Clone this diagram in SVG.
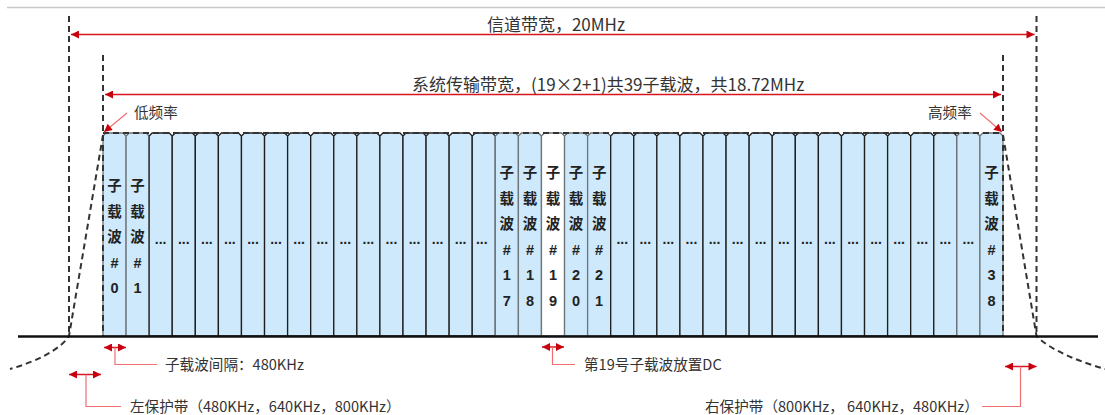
<svg xmlns="http://www.w3.org/2000/svg" xmlns:xlink="http://www.w3.org/1999/xlink" width="1105" height="415" viewBox="0 0 1105 415">
<style>
.lbl{font-family:"Noto Sans CJK SC","Noto Sans",sans-serif;fill:#333;}
.big{font-size:17px;}
.sm{font-size:14.6px;}
.ct{font-family:"Liberation Sans","Noto Sans CJK SC",sans-serif;font-size:14.5px;font-weight:bold;fill:#222;text-anchor:middle;}
.dots{font-family:"Liberation Sans",sans-serif;font-size:14px;font-weight:bold;fill:#222;text-anchor:middle;}
.colA{fill:#cde9fb;stroke:#6f7478;stroke-width:1.3;}
.colB{fill:#cde9fb;stroke:#1e1e1e;stroke-width:1.3;}
.colW{fill:#ffffff;stroke:#6f7478;stroke-width:1.3;}
.dash{fill:none;stroke:#333;stroke-width:2;stroke-dasharray:6 4;}
.red{fill:none;stroke:#d8141e;stroke-width:1.5;}
.lead{fill:none;stroke:#ef6f73;stroke-width:1.2;}
</style>
<defs>
<path id="col" d="M0,336 V136 L3,133 H20.08 L23.08,136 V336 Z"/>
<marker id="ah" viewBox="0 0 10 10" refX="10" refY="5" markerWidth="10" markerHeight="8" markerUnits="userSpaceOnUse" orient="auto-start-reverse">
<path d="M0,0 L10,5 L0,10 Z" fill="#c8000d"/>
</marker>
</defs>

<line x1="7" y1="7.5" x2="1105" y2="7.5" stroke="#c8c8c8" stroke-width="1.5"/>

<g id="subcarriers">
<use xlink:href="#col" x="103.00" class="colA"/>
<use xlink:href="#col" x="126.08" class="colA"/>
<use xlink:href="#col" x="149.15" class="colB"/>
<use xlink:href="#col" x="172.23" class="colB"/>
<use xlink:href="#col" x="195.31" class="colB"/>
<use xlink:href="#col" x="218.38" class="colB"/>
<use xlink:href="#col" x="241.46" class="colB"/>
<use xlink:href="#col" x="264.54" class="colB"/>
<use xlink:href="#col" x="287.62" class="colB"/>
<use xlink:href="#col" x="310.69" class="colB"/>
<use xlink:href="#col" x="333.77" class="colB"/>
<use xlink:href="#col" x="356.85" class="colB"/>
<use xlink:href="#col" x="379.92" class="colB"/>
<use xlink:href="#col" x="403.00" class="colB"/>
<use xlink:href="#col" x="426.08" class="colB"/>
<use xlink:href="#col" x="449.15" class="colB"/>
<use xlink:href="#col" x="472.23" class="colB"/>
<use xlink:href="#col" x="495.31" class="colA"/>
<use xlink:href="#col" x="518.38" class="colA"/>
<use xlink:href="#col" x="541.46" class="colW"/>
<use xlink:href="#col" x="564.54" class="colA"/>
<use xlink:href="#col" x="587.62" class="colA"/>
<use xlink:href="#col" x="610.69" class="colB"/>
<use xlink:href="#col" x="633.77" class="colB"/>
<use xlink:href="#col" x="656.85" class="colB"/>
<use xlink:href="#col" x="679.92" class="colB"/>
<use xlink:href="#col" x="703.00" class="colB"/>
<use xlink:href="#col" x="726.08" class="colB"/>
<use xlink:href="#col" x="749.15" class="colB"/>
<use xlink:href="#col" x="772.23" class="colB"/>
<use xlink:href="#col" x="795.31" class="colB"/>
<use xlink:href="#col" x="818.38" class="colB"/>
<use xlink:href="#col" x="841.46" class="colB"/>
<use xlink:href="#col" x="864.54" class="colB"/>
<use xlink:href="#col" x="887.62" class="colB"/>
<use xlink:href="#col" x="910.69" class="colB"/>
<use xlink:href="#col" x="933.77" class="colB"/>
<use xlink:href="#col" x="956.85" class="colA"/>
<use xlink:href="#col" x="979.92" class="colA"/>
</g>

<g id="subcarrier-labels">
<text class="ct"><tspan x="114.54" y="191">子</tspan><tspan x="114.54" y="216.5">载</tspan><tspan x="114.54" y="242">波</tspan><tspan x="114.54" y="267.5">#</tspan><tspan x="114.54" y="293">0</tspan></text>
<text class="ct"><tspan x="137.62" y="191">子</tspan><tspan x="137.62" y="216.5">载</tspan><tspan x="137.62" y="242">波</tspan><tspan x="137.62" y="267.5">#</tspan><tspan x="137.62" y="293">1</tspan></text>
<text class="ct"><tspan x="506.85" y="178">子</tspan><tspan x="506.85" y="203.5">载</tspan><tspan x="506.85" y="229">波</tspan><tspan x="506.85" y="254.5">#</tspan><tspan x="506.85" y="280">1</tspan><tspan x="506.85" y="305.5">7</tspan></text>
<text class="ct"><tspan x="529.92" y="178">子</tspan><tspan x="529.92" y="203.5">载</tspan><tspan x="529.92" y="229">波</tspan><tspan x="529.92" y="254.5">#</tspan><tspan x="529.92" y="280">1</tspan><tspan x="529.92" y="305.5">8</tspan></text>
<text class="ct"><tspan x="553.00" y="178">子</tspan><tspan x="553.00" y="203.5">载</tspan><tspan x="553.00" y="229">波</tspan><tspan x="553.00" y="254.5">#</tspan><tspan x="553.00" y="280">1</tspan><tspan x="553.00" y="305.5">9</tspan></text>
<text class="ct"><tspan x="576.08" y="178">子</tspan><tspan x="576.08" y="203.5">载</tspan><tspan x="576.08" y="229">波</tspan><tspan x="576.08" y="254.5">#</tspan><tspan x="576.08" y="280">2</tspan><tspan x="576.08" y="305.5">0</tspan></text>
<text class="ct"><tspan x="599.15" y="178">子</tspan><tspan x="599.15" y="203.5">载</tspan><tspan x="599.15" y="229">波</tspan><tspan x="599.15" y="254.5">#</tspan><tspan x="599.15" y="280">2</tspan><tspan x="599.15" y="305.5">1</tspan></text>
<text class="ct"><tspan x="991.46" y="178">子</tspan><tspan x="991.46" y="203.5">载</tspan><tspan x="991.46" y="229">波</tspan><tspan x="991.46" y="254.5">#</tspan><tspan x="991.46" y="280">3</tspan><tspan x="991.46" y="305.5">8</tspan></text>
<text class="dots" y="244">
<tspan x="160.69">...</tspan><tspan x="183.77">...</tspan><tspan x="206.85">...</tspan><tspan x="229.92">...</tspan><tspan x="253.00">...</tspan><tspan x="276.08">...</tspan><tspan x="299.15">...</tspan><tspan x="322.23">...</tspan><tspan x="345.31">...</tspan><tspan x="368.38">...</tspan><tspan x="391.46">...</tspan><tspan x="414.54">...</tspan><tspan x="437.62">...</tspan><tspan x="460.69">...</tspan><tspan x="483.77">...</tspan>
<tspan x="622.23">...</tspan><tspan x="645.31">...</tspan><tspan x="668.38">...</tspan><tspan x="691.46">...</tspan><tspan x="714.54">...</tspan><tspan x="737.62">...</tspan><tspan x="760.69">...</tspan><tspan x="783.77">...</tspan><tspan x="806.85">...</tspan><tspan x="829.92">...</tspan><tspan x="853.00">...</tspan><tspan x="876.08">...</tspan><tspan x="899.15">...</tspan><tspan x="922.23">...</tspan><tspan x="945.31">...</tspan><tspan x="968.38">...</tspan>
</text>
</g>

<g id="spectrum-outline">
<line class="dash" x1="103" y1="133" x2="1003" y2="133"/>
<line class="dash" x1="69" y1="16" x2="69" y2="336"/>
<line class="dash" x1="1036.5" y1="16" x2="1036.5" y2="336"/>
<line class="dash" x1="103" y1="55" x2="103" y2="336"/>
<line class="dash" x1="1003" y1="55" x2="1003" y2="336"/>
<path class="dash" d="M103,135 L69,336 C60,350 35,362 10,369"/>
<path class="dash" d="M1003,135 L1036.5,336 C1050,350 1080,362 1105,369"/>
</g>

<line id="baseline" x1="18" y1="336.5" x2="1098" y2="336.5" stroke="#111" stroke-width="2.5"/>

<g id="connectors">
<line class="red" x1="71" y1="34.5" x2="1034.5" y2="34.5" marker-start="url(#ah)" marker-end="url(#ah)"/>
<line class="red" x1="105" y1="94.5" x2="1001" y2="94.5" marker-start="url(#ah)" marker-end="url(#ah)"/>
<line class="lead" x1="127" y1="113" x2="104" y2="132" marker-end="url(#ah)"/>
<line class="lead" x1="980" y1="113" x2="1002" y2="132" marker-end="url(#ah)"/>
<line class="red" x1="104" y1="347.5" x2="126" y2="347.5" marker-start="url(#ah)" marker-end="url(#ah)"/>
<polyline class="lead" points="115,347.5 115,364.5 157,364.5"/>
<line class="red" x1="69" y1="374.5" x2="101" y2="374.5" marker-start="url(#ah)" marker-end="url(#ah)"/>
<polyline class="lead" points="86,374.5 86,406.5 121,406.5"/>
<line class="red" x1="542" y1="347" x2="564" y2="347" marker-start="url(#ah)" marker-end="url(#ah)"/>
<polyline class="lead" points="552.5,347 552.5,364.5 575,364.5"/>
<line class="red" x1="1005" y1="366.5" x2="1036.5" y2="366.5" marker-start="url(#ah)" marker-end="url(#ah)"/>
<polyline class="lead" points="1020.5,366.5 1020.5,406.5 982,406.5"/>
</g>

<g id="labels">
<text class="lbl big" x="556" y="31" text-anchor="middle">信道带宽，20MHz</text>
<text class="lbl big" x="412" y="91">系统传输带宽，(19×2+1)共39子载波，共18.72MHz</text>
<text class="lbl sm" x="134" y="118">低频率</text>
<text class="lbl sm" x="928" y="118">高频率</text>
<text class="lbl sm" x="165" y="369.5">子载波间隔：480KHz</text>
<text class="lbl sm" x="130" y="411.5">左保护带（480KHz，640KHz，800KHz）</text>
<text class="lbl sm" x="584" y="369.5">第19号子载波放置DC</text>
<text class="lbl sm" x="705" y="411.5">右保护带（800KHz， 640KHz，480KHz）</text>
</g>
</svg>
